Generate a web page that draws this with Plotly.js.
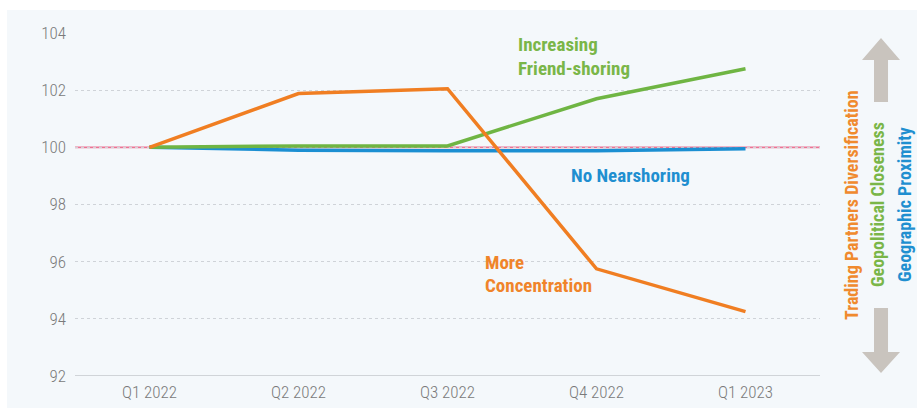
<!DOCTYPE html>
<html><head><meta charset="utf-8">
<script src="https://cdn.plot.ly/plotly-3.0.1.min.js"></script>
<style>html,body{margin:0;padding:0;background:#fff;}#chart{width:917px;height:408px;}</style>
</head><body><div id="chart"></div>
<script>
const quarters = ["Q1 2022","Q2 2022","Q3 2022","Q4 2022","Q1 2023"];
const diversification = [100, 101.88, 102.05, 95.75, 94.25];
const friendShoring = [100, 100.05, 100.05, 101.7, 102.75];
const nearshoring = [100, 99.9, 99.88, 99.88, 99.95];
const baseline = 100;
const yTicks = [92, 94, 96, 98, 100, 102, 104];

const W = 917, H = 408, L = 75, R = 97, T = 33, B = 32;
const pw = W - L - R, ph = H - T - B;
const px = x => (x - L) / pw;
const py = y => (H - B - y) / ph;
const pathOf = pts => pts.map((p, i) => (i ? 'L' : 'M') + px(p[0]).toFixed(4) + ',' + py(p[1]).toFixed(4)).join(' ') + ' Z';

const cOrange = '#f07e22', cGreen = '#6fb543', cBlue = '#1b8fd2', cPink = '#ec7394';
const fontC = 'Roboto Condensed, Liberation Sans Narrow, Roboto, sans-serif';

const mk = (y, color) => ({x: quarters, y: y, type: 'scatter', mode: 'lines',
  line: {color: color, width: 3.5}, hoverinfo: 'skip', showlegend: false});

const data = [mk(nearshoring, cBlue), mk(friendShoring, cGreen), mk(diversification, cOrange)];

const arrowUp = [[881,38],[900,60],[888,60],[888,102],[874,102],[874,60],[862,60]];
const arrowDown = [[874,308],[888,308],[888,352],[900,352],[881,373],[862,352],[874,352]];

const label = (x, y, text, color, size) => ({xref: 'paper', yref: 'paper', x: px(x), y: py(y),
  xanchor: 'left', yanchor: 'middle', align: 'left', showarrow: false,
  text: '<b>' + text + '</b>', font: {size: size, color: color, family: fontC}});
const vlabel = (x, y, text, color) => ({xref: 'paper', yref: 'paper', x: px(x), y: py(y),
  xanchor: 'center', yanchor: 'middle', textangle: -90, showarrow: false,
  text: '<b>' + text + '</b>', font: {size: 18, color: color, family: fontC}});

const layout = {
  width: W, height: H,
  margin: {l: L, r: R, t: T, b: B},
  paper_bgcolor: '#ffffff', plot_bgcolor: 'rgba(0,0,0,0)',
  font: {family: fontC, color: '#777'},
  xaxis: {type: 'category', range: [-0.5, 4.5], showgrid: false, zeroline: false,
    showline: false, ticks: '', ticklabelstandoff: 4,
    tickfont: {size: 17, color: '#7a7a7a', family: fontC, weight: 300}},
  yaxis: {range: [92, 104], tickvals: yTicks, showgrid: true, gridcolor: '#cfd3d8',
    griddash: 'dot', gridwidth: 1, zeroline: false, showline: false, ticks: '',
    ticklabelstandoff: 8, tickfont: {size: 17, color: '#7a7a7a', family: fontC, weight: 300}},
  shapes: [
    {type: 'rect', xref: 'paper', yref: 'paper', x0: px(7), x1: px(917), y0: py(408), y1: py(10),
      fillcolor: '#f4f8fb', line: {width: 0}, layer: 'below'},
    {type: 'line', xref: 'paper', yref: 'y', x0: 0, x1: 1, y0: 92, y1: 92,
      line: {color: '#c4c8cc', width: 1.5}, layer: 'below'},
    {type: 'line', xref: 'paper', yref: 'y', x0: 0, x1: 1, y0: baseline, y1: baseline,
      line: {color: cPink, width: 1.8}, layer: 'below'},
    {type: 'path', xref: 'paper', yref: 'paper', path: pathOf(arrowUp), fillcolor: '#c9c4be', line: {width: 0}},
    {type: 'path', xref: 'paper', yref: 'paper', path: pathOf(arrowDown), fillcolor: '#c9c4be', line: {width: 0}}
  ],
  annotations: [
    label(516, 45, 'Increasing', '#7ab648', 19),
    label(516, 68, 'Friend-shoring', '#7ab648', 19),
    label(569, 175, 'No Nearshoring', '#1f8fd0', 19),
    label(483, 262, 'More', '#f0842a', 19),
    label(483, 285, 'Concentration', '#f0842a', 19),
    vlabel(851, 205, 'Trading Partners Diversification', '#f08a2e'),
    vlabel(877, 205, 'Geopolitical Closeness', '#7ab648'),
    vlabel(904, 205, 'Geographic Proximity', '#1f8fd0')
  ]
};

Plotly.newPlot('chart', data, layout, {displayModeBar: false, staticPlot: true});
</script></body></html>
